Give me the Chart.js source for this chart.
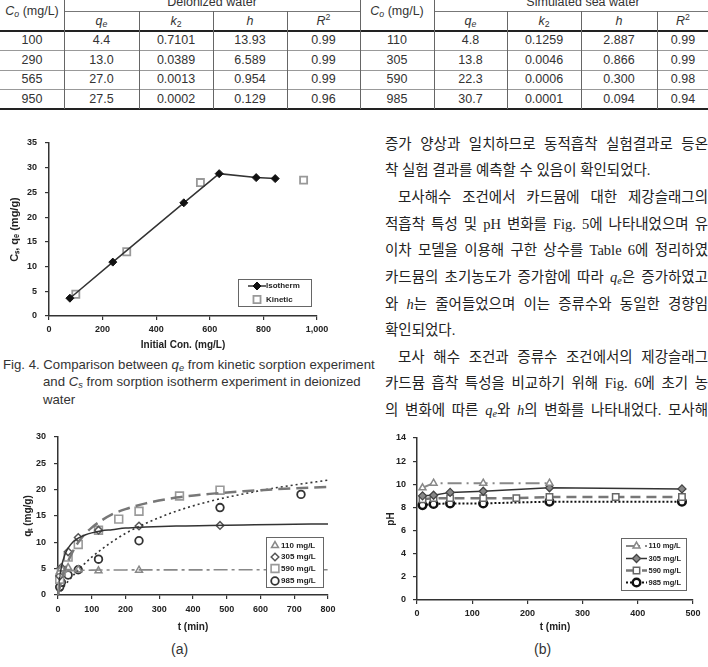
<!DOCTYPE html>
<html>
<head>
<meta charset="utf-8">
<script src="https://cdn.jsdelivr.net/npm/chart.js@4.4.0/dist/chart.umd.min.js"></script>
<style>
  html, body { margin: 0; padding: 0; background: #fff; }
  body { width: 708px; height: 667px; overflow: hidden; position: relative; }
  .cell { position: absolute; text-align: center; white-space: nowrap; color: #333;
          font: 12.5px "Liberation Sans Narrow", "Liberation Sans", Arial, sans-serif; }
  .ln { position: absolute; }
  .cap { position: absolute; white-space: nowrap; color: #333; line-height: 18px;
         font: 13.2px "Liberation Sans Narrow", "Liberation Sans", Arial, sans-serif; }
  .kr { position: absolute; white-space: nowrap; color: #222; line-height: 20px; height: 20px;
        font: 14.5px "Liberation Serif", "Noto Sans CJK KR", serif; }
  .kr.j { white-space: normal; width: 323px; text-align: justify; text-align-last: justify; overflow: hidden; }
  .kr.j.ind { width: 310px; }
  sub { font-size: 70%; line-height: 0; vertical-align: -2px; }
  sup { font-size: 70%; line-height: 0; vertical-align: 5px; }
  .lab { position: absolute; font: 14px "Liberation Sans Narrow", "Liberation Sans", sans-serif; color: #333; }
  canvas { position: absolute; }
</style>
</head>
<body>

<div id="tbl"></div>

<canvas id="fig4" width="330" height="223" style="left:0;top:130px"></canvas>

<div class="cap" style="top:357px;left:3px">Fig. 4. Comparison between <i>q<sub>e</sub></i> from kinetic sorption experiment</div>
<div class="cap" style="top:374px;left:43px">and <i>C<sub>s</sub></i> from sorption isotherm experiment in deionized</div>
<div class="cap" style="top:392px;left:43px">water</div>

<div class="kr j" style="top:132px;left:385px">증가 양상과 일치하므로 동적흡착 실험결과로 등온</div>
<div class="kr" style="top:158px;left:385px">착 실험 결과를 예측할 수 있음이 확인되었다.</div>
<div class="kr j ind" style="top:185px;left:398px">모사해수 조건에서 카드뮴에 대한 제강슬래그의</div>
<div class="kr j" style="top:212px;left:385px">적흡착 특성 및 pH 변화를 Fig. 5에 나타내었으며 유</div>
<div class="kr j" style="top:238px;left:385px">이차 모델을 이용해 구한 상수를 Table 6에 정리하였</div>
<div class="kr j" style="top:265px;left:385px">카드뮴의 초기농도가 증가함에 따라 <i>q<sub>e</sub></i>은 증가하였고</div>
<div class="kr j" style="top:292px;left:385px">와 <i>h</i>는 줄어들었으며 이는 증류수와 동일한 경향임</div>
<div class="kr" style="top:318px;left:385px">확인되었다.</div>
<div class="kr j ind" style="top:345px;left:398px">모사 해수 조건과 증류수 조건에서의 제강슬래그</div>
<div class="kr j" style="top:371px;left:385px">카드뮴 흡착 특성을 비교하기 위해 Fig. 6에 초기 농</div>
<div class="kr j" style="top:398px;left:385px">의 변화에 따른 <i>q<sub>e</sub></i>와 <i>h</i>의 변화를 나타내었다. 모사해</div>

<canvas id="figA" width="354" height="210" style="left:0;top:425px"></canvas>
<canvas id="figB" width="354" height="210" style="left:354px;top:425px"></canvas>

<div class="lab" style="left:171px;top:641px">(a)</div>
<div class="lab" style="left:534px;top:641px">(b)</div>

<script>
// ---- Table 6 values ----
const coDI = ["100", "290", "565", "950"];
const qeDI = ["4.4", "13.0", "27.0", "27.5"];
const k2DI = ["0.7101", "0.0389", "0.0013", "0.0002"];
const hDI = ["13.93", "6.589", "0.954", "0.129"];
const r2DI = ["0.99", "0.99", "0.99", "0.96"];
const coSW = ["110", "305", "590", "985"];
const qeSW = ["4.8", "13.8", "22.3", "30.7"];
const k2SW = ["0.1259", "0.0046", "0.0006", "0.0001"];
const hSW = ["2.887", "0.866", "0.300", "0.094"];
const r2SW = ["0.99", "0.99", "0.98", "0.94"];

// ---- Fig. 4 ----
const isoConc = [78, 238, 503, 635, 773, 844];
const isoCs = [3.6, 10.9, 22.9, 28.8, 28.0, 27.8];
const kinConc = [100, 290, 565, 950];
const kinQe = [4.4, 13.0, 27.0, 27.5];

// ---- Fig. (a) kinetic data, simulated sea water ----
const t110 = [5, 10, 30, 60, 120, 240];
const q110 = [4.4, 5.0, 5.2, 4.8, 4.6, 4.7];
const t305 = [5, 10, 30, 60, 120, 240, 480];
const q305 = [3.6, 5.2, 8.2, 10.9, 12.3, 13.1, 13.2];
const t590 = [5, 10, 30, 60, 120, 180, 240, 360, 480];
const q590 = [3.0, 4.5, 7.2, 9.6, 12.3, 14.4, 15.9, 18.8, 19.9];
const t985 = [5, 10, 30, 60, 120, 240, 480, 720];
const q985 = [1.5, 2.4, 3.8, 4.8, 6.8, 10.3, 16.6, 19.1];
// fitted curves
const fitT = [0, 2, 5, 10, 20, 30, 45, 60, 80, 100, 130, 160, 200, 260, 350, 450, 550, 650, 800];
const fit110 = [0, 2.6, 3.6, 4.1, 4.4, 4.55, 4.62, 4.67, 4.7, 4.72, 4.74, 4.75, 4.76, 4.77, 4.78, 4.78, 4.79, 4.79, 4.8];
const fit305 = [0, 1.5, 3.3, 5.3, 7.6, 8.9, 10.1, 10.8, 11.4, 11.8, 12.2, 12.4, 12.7, 12.9, 13.1, 13.2, 13.3, 13.4, 13.5];
const fit590 = [0, 0.6, 1.4, 2.7, 4.7, 6.4, 8.4, 10.0, 11.6, 12.8, 14.2, 15.3, 16.3, 17.4, 18.5, 19.2, 19.7, 20.1, 20.5];
const fit985 = [0, 0.2, 0.5, 0.9, 1.8, 2.6, 3.7, 4.8, 6.0, 7.2, 8.7, 10.1, 11.7, 13.6, 15.9, 17.8, 19.2, 20.4, 21.8];

// ---- Fig. (b) pH ----
const tB110 = [10, 30, 120, 240];
const pH110 = [9.7, 10.1, 10.1, 10.1];
const tB305 = [10, 30, 60, 120, 240, 480];
const pH305 = [9.0, 9.05, 9.3, 9.4, 9.7, 9.6];
const tB590 = [10, 30, 60, 120, 180, 240, 360, 480];
const pH590 = [8.7, 8.8, 8.8, 8.8, 8.8, 8.9, 8.9, 8.9];
const tB985 = [10, 30, 60, 120, 240, 480];
const pH985 = [8.2, 8.3, 8.35, 8.35, 8.5, 8.5];

const seriesLabels = ["110 mg/L", "305 mg/L", "590 mg/L", "985 mg/L"];

// ---------- table ----------
const tbl = document.getElementById("tbl");
const colX = [0, 64, 139, 213, 287, 360, 434, 507, 581, 657, 709];
function put(cls, style, html) {
  const d = document.createElement("div");
  d.className = cls;
  d.style.cssText = style;
  if (html) d.innerHTML = html;
  tbl.appendChild(d);
}
function cellText(c, top, h, html) {
  put("cell", `left:${colX[c]}px;width:${colX[c + 1] - colX[c]}px;top:${top}px;height:${h}px;line-height:${h}px`, html);
}
put("cell", "left:64px;width:296px;top:-7px;height:18px;line-height:18px", "Deionized water");
put("cell", "left:434px;width:298px;top:-7px;height:18px;line-height:18px", "Simulated sea water");
cellText(0, -8, 39, "<i>C<sub>o</sub></i> (mg/L)");
cellText(5, -8, 39, "<i>C<sub>o</sub></i> (mg/L)");
const subHead = ["<i>q<sub>e</sub></i>", "<i>k</i><sub>2</sub>", "<i>h</i>", "<i>R</i><sup>2</sup>"];
subHead.forEach((s, i) => { cellText(1 + i, 12, 19, s); cellText(6 + i, 12, 19, s); });
const rows = [coDI, qeDI, k2DI, hDI, r2DI, coSW, qeSW, k2SW, hSW, r2SW];
for (let r = 0; r < 4; r++) {
  rows.forEach((col, c) => cellText(c, 31 + r * 19.5, 19.5, col[r]));
}
// rules
put("ln", "left:64px;width:296px;top:11px;height:1px;background:#777");
put("ln", "left:434px;width:274px;top:11px;height:1px;background:#777");
put("ln", "left:0;width:708px;top:30px;height:2px;background:#222");
[50, 70, 89].forEach(y => put("ln", `left:0;width:708px;top:${y}px;height:1px;background:#999`));
put("ln", "left:0;width:708px;top:108px;height:2px;background:#222");
colX.slice(1, 10).forEach(x => {
  const full = (x === 64 || x === 360 || x === 434);
  put("ln", `left:${x}px;width:1px;top:${full ? -2 : 11}px;height:${full ? 111 : 98}px;background:#666`);
});

// ---------- charts ----------
const pts = (xs, ys) => xs.map((x, i) => ({ x: x, y: ys[i] }));
const SANS = '"Liberation Sans", Arial, sans-serif';

function boxLegendDraw(chart, o) {
  const ctx = chart.ctx;
  ctx.save();
  ctx.fillStyle = "#fff";
  ctx.fillRect(o.x, o.y, o.w, o.h);
  ctx.strokeStyle = "#666";
  ctx.lineWidth = 1;
  ctx.strokeRect(Math.round(o.x) + 0.5, Math.round(o.y) + 0.5, o.w, o.h);
  o.items.forEach((it, i) => {
    const y = o.rowY[i];
    if (it.line != null) {
      const d = chart.data.datasets[it.line];
      ctx.strokeStyle = d.borderColor;
      ctx.lineWidth = d.borderWidth;
      ctx.setLineDash(d.borderDash || []);
      ctx.beginPath();
      ctx.moveTo(o.lineX[0], y);
      ctx.lineTo(o.lineX[1], y);
      ctx.stroke();
      ctx.setLineDash([]);
    }
    if (it.point != null) {
      const d = chart.data.datasets[it.point];
      ctx.fillStyle = d.pointBackgroundColor;
      ctx.strokeStyle = d.pointBorderColor;
      ctx.lineWidth = d.pointBorderWidth;
      Chart.helpers.drawPoint(ctx, { pointStyle: d.pointStyle, radius: o.markR || d.pointRadius,
        borderWidth: d.pointBorderWidth, rotation: 0 }, o.markX, y);
    }
    ctx.fillStyle = "#222";
    ctx.font = o.font;
    ctx.textBaseline = "middle";
    ctx.textAlign = "left";
    ctx.fillText(it.text, o.textX, y);
  });
  ctx.restore();
}
const boxLegend = {
  id: "boxLegend",
  afterDatasetsDraw(chart, args, opts) { if (opts && opts.items) boxLegendDraw(chart, opts); }
};

function xAxis(max, step, title, pad, h) {
  return {
    type: "linear", min: 0, max: max,
    ticks: { stepSize: step, padding: pad, color: "#222", maxRotation: 0, autoSkip: false,
             font: { family: SANS, weight: "bold", size: 9 } },
    grid: { drawOnChartArea: false, tickLength: 4, color: "#333", lineWidth: 1.2 },
    border: { color: "#333", width: 1.5 },
    title: { display: true, text: title, color: "#222", padding: { top: 0, bottom: 2 },
             font: { family: SANS, weight: "bold", size: 10 } },
    afterFit: s => { s.height = h; s.paddingLeft = 0; s.paddingRight = 0; }
  };
}
function yAxis(max, step, title, titleSize, titlePad, pad, w) {
  return {
    type: "linear", min: 0, max: max,
    ticks: { stepSize: step, padding: pad, color: "#222",
             font: { family: SANS, weight: "bold", size: 9 } },
    grid: { drawOnChartArea: false, tickLength: 4, color: "#333", lineWidth: 1.2 },
    border: { color: "#333", width: 1.5 },
    title: { display: true, text: title, color: "#222", padding: { top: titlePad, bottom: 0 },
             font: { family: SANS, weight: "bold", size: titleSize } },
    afterFit: s => { s.width = w; s.paddingTop = 0; s.paddingBottom = 0; }
  };
}
function baseOptions(padding, scales, legend) {
  return {
    responsive: false, animation: false, devicePixelRatio: 1,
    layout: { padding: padding },
    scales: scales,
    plugins: { legend: { display: false }, tooltip: { enabled: false }, boxLegend: legend }
  };
}

// Fig. 4
new Chart(document.getElementById("fig4"), {
  type: "scatter",
  data: {
    datasets: [
      { label: "Isotherm", data: pts(isoConc, isoCs), showLine: true, clip: false,
        borderColor: "#333", borderWidth: 1.5, pointStyle: "rectRot", pointRadius: 4,
        pointBackgroundColor: "#111", pointBorderColor: "#111", pointBorderWidth: 1 },
      { label: "Kinetic", data: pts(kinConc, kinQe), showLine: false, clip: false,
        pointStyle: "rect", pointRadius: 5, pointBackgroundColor: "#fff",
        pointBorderColor: "#999", pointBorderWidth: 1.8 }
    ]
  },
  options: baseOptions({ left: 0, top: 13, right: 13, bottom: 0 }, {
    x: xAxis(1000, 200, "Initial Con. (mg/L)", 4, 37),
    y: yAxis(35, 5, "Cₛ, qₑ (mg/g)", 11, 8, 8, 49)
  }, {
    x: 238, y: 149, w: 73, h: 27, rowY: [156, 169.5], lineX: [248, 266], markX: 257, textX: 266,
    font: "bold 8px " + SANS,
    items: [{ text: "Isotherm", line: 0, point: 0 }, { text: "Kinetic", point: 1 }]
  }),
  plugins: [boxLegend]
});

// Fig. (a)
const fitLine = (data, color, width, dash) => ({
  data: pts(fitT, data), showLine: true, pointRadius: 0, borderColor: color, borderWidth: width,
  borderDash: dash, cubicInterpolationMode: "monotone", clip: false
});
const markers = (xs, ys, style, r, stroke, fill, bw) => ({
  data: pts(xs, ys), showLine: false, pointStyle: style, pointRadius: r, clip: false,
  pointBorderColor: stroke, pointBackgroundColor: fill, pointBorderWidth: bw
});
new Chart(document.getElementById("figA"), {
  type: "scatter",
  data: {
    datasets: [
      fitLine(fit110, "#888", 1.6, [14, 4, 3, 4]),
      fitLine(fit305, "#333", 1.5, []),
      fitLine(fit590, "#777", 2.5, [12, 6]),
      fitLine(fit985, "#333", 1.6, [2, 3]),
      markers(t110, q110, "triangle", 4, "#888", "#fff", 1.5),
      markers(t305, q305, "rectRot", 3.8, "#555", "#fff", 1.5),
      markers(t590, q590, "rect", 5.5, "#999", "#fff", 1.6),
      markers(t985, q985, "circle", 3.8, "#333", "#fff", 1.8)
    ]
  },
  options: baseOptions({ left: 0, top: 12, right: 26, bottom: 0 }, {
    x: xAxis(800, 100, "t (min)", 5, 40),
    y: yAxis(30, 5, "qₜ (mg/g)", 10, 22, 8, 58)
  }, {
    x: 266, y: 112, w: 57, h: 50, rowY: [120.5, 132, 143.5, 156], markX: 275, textX: 281,
    font: "bold 8px " + SANS,
    items: seriesLabels.map((s, i) => ({ text: s, point: 4 + i }))
  }),
  plugins: [boxLegend]
});

// Fig. (b)
const phSeries = (xs, ys, color, width, dash, style, r, stroke, fill, bw) => ({
  data: pts(xs, ys), showLine: true, borderColor: color, borderWidth: width, borderDash: dash,
  pointStyle: style, pointRadius: r, pointBorderColor: stroke, pointBackgroundColor: fill,
  pointBorderWidth: bw, clip: false
});
new Chart(document.getElementById("figB"), {
  type: "scatter",
  data: {
    datasets: [
      phSeries(tB110, pH110, "#888", 2, [14, 5, 2, 5], "triangle", 4, "#888", "#fff", 1.5),
      phSeries(tB305, pH305, "#333", 1.5, [], "rectRot", 4, "#444", "#888", 1.3),
      phSeries(tB590, pH590, "#777", 2.5, [10, 6], "rect", 4.5, "#666", "#fff", 1.5),
      phSeries(tB985, pH985, "#111", 2, [2, 2], "circle", 3.8, "#111", "#fff", 2.5)
    ]
  },
  options: baseOptions({ left: 0, top: 13, right: 15, bottom: 0 }, {
    x: xAxis(500, 100, "t (min)", 4, 35),
    y: yAxis(14, 2, "pH", 10, 31, 7, 63)
  }, {
    x: 267, y: 113, w: 65, h: 52, rowY: [121, 133.5, 145.5, 157.5], lineX: [272, 293], markX: 282.5,
    textX: 294.5, font: "bold 7.5px " + SANS,
    items: seriesLabels.map((s, i) => ({ text: s, line: i, point: i }))
  }),
  plugins: [boxLegend]
});
</script>
</body>
</html>
